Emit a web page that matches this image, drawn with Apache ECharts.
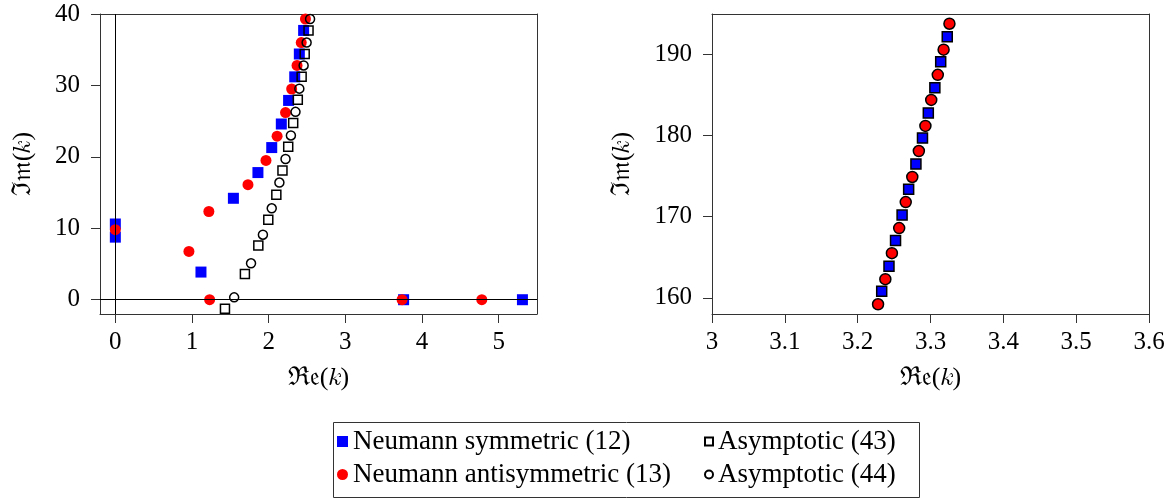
<!DOCTYPE html>
<html lang="en">
<head>
  <meta charset="UTF-8">
  <title>Resonances</title>
  <script src="https://cdn.jsdelivr.net/npm/echarts@6/dist/echarts.min.js"></script>
  <style>
    html, body { margin: 0; padding: 0; background: #fff; }
    #chart { width: 1172px; height: 499px; }
  </style>
</head>
<body>
<div id="chart"></div>
<script>
  // left panel, low-lying part
  const symRe  = [0, 0, 1.117, 1.54, 1.86, 2.04, 2.165, 2.26, 2.34, 2.40, 2.456, 3.76, 5.31];
  const symIm  = [10.6, 8.76, 3.87, 14.2, 17.8, 21.3, 24.6, 27.9, 31.2, 34.4, 37.7, 0, 0];
  const antiRe = [0, 0.96, 1.23, 1.22, 1.73, 1.965, 2.11, 2.22, 2.30, 2.37, 2.425, 2.48, 3.74, 4.78];
  const antiIm = [9.8, 6.76, 0, 12.35, 16.1, 19.5, 22.9, 26.2, 29.5, 32.8, 36.0, 39.3, 0, 0];
  const asym43Re = [1.43, 1.69, 1.865, 1.995, 2.10, 2.18, 2.255, 2.32, 2.38, 2.43, 2.47, 2.52];
  const asym43Im = [-1.26, 3.6, 7.6, 11.2, 14.7, 18.1, 21.4, 24.75, 28.0, 31.2, 34.4, 37.7];
  const asym44Re = [1.55, 1.77, 1.925, 2.04, 2.14, 2.22, 2.29, 2.35, 2.40, 2.456, 2.495, 2.54];
  const asym44Im = [0.33, 5.1, 9.1, 12.8, 16.4, 19.7, 23.0, 26.3, 29.55, 32.8, 36.0, 39.3];

  // right panel, high part
  const symRe2  = [3.233, 3.243, 3.252, 3.261, 3.270, 3.280, 3.289, 3.297, 3.306, 3.314, 3.323];
  const symIm2  = [160.8, 163.9, 167.05, 170.2, 173.4, 176.5, 179.7, 182.8, 185.9, 189.1, 192.2];
  const antiRe2 = [3.228, 3.238, 3.247, 3.257, 3.266, 3.275, 3.284, 3.293, 3.301, 3.310, 3.318, 3.326];
  const antiIm2 = [159.2, 162.3, 165.5, 168.6, 171.8, 174.9, 178.1, 181.2, 184.4, 187.5, 190.6, 193.8];

  const leftXTicks  = [0, 1, 2, 3, 4, 5];
  const leftYTicks  = [0, 10, 20, 30, 40];
  const rightXTicks = [3, 3.1, 3.2, 3.3, 3.4, 3.5, 3.6];
  const rightYTicks = [160, 170, 180, 190];

  const names = ['Neumann symmetric (12)', 'Neumann antisymmetric (13)', 'Asymptotic (43)', 'Asymptotic (44)'];

  const FONT = 'Liberation Serif';
  const zip = (a, b) => a.map((v, i) => [v, b[i]]);
  const fmt = v => String(Math.round(v * 10) / 10);

  function xAxis(idx, min, max, ticks) {
    return {
      type: 'value', gridIndex: idx, min: min, max: max,
      name: 'ℜ𝔢(𝑘)', nameLocation: 'middle', nameGap: 51,
      nameTextStyle: { fontFamily: FONT, fontSize: 26, color: '#000' },
      axisLine: { show: true, onZero: false, lineStyle: { color: '#333', width: 1 } },
      axisTick: { show: true, length: 9, customValues: ticks, lineStyle: { color: '#333' } },
      axisLabel: { customValues: ticks, formatter: fmt, margin: 16, fontFamily: FONT, fontSize: 25, color: '#000' },
      splitLine: { show: false }
    };
  }
  function yAxis(idx, min, max, ticks, gap) {
    return {
      type: 'value', gridIndex: idx, min: min, max: max,
      name: 'ℑ𝔪(𝑘)', nameLocation: 'middle', nameGap: gap,
      nameTextStyle: { fontFamily: FONT, fontSize: 26, color: '#000' },
      axisLine: { show: true, onZero: false, lineStyle: { color: '#333', width: 1 } },
      axisTick: { show: true, length: 9, customValues: ticks, lineStyle: { color: '#333' } },
      axisLabel: { customValues: ticks, formatter: fmt, margin: 20, fontFamily: FONT, fontSize: 25, color: '#000' },
      splitLine: { show: false }
    };
  }
  // plain axes on the top and right to close the frame
  function frameX(idx, min, max) {
    return {
      type: 'value', gridIndex: idx, min: min, max: max, position: 'top',
      axisLine: { show: true, onZero: false, lineStyle: { color: '#333', width: 1 } },
      axisTick: { show: false }, axisLabel: { show: false }, splitLine: { show: false }
    };
  }
  function frameY(idx, min, max) {
    return {
      type: 'value', gridIndex: idx, min: min, max: max, position: 'right',
      axisLine: { show: true, onZero: false, lineStyle: { color: '#333', width: 1 } },
      axisTick: { show: false }, axisLabel: { show: false }, splitLine: { show: false }
    };
  }

  const openStyle = { color: 'rgba(255,255,255,0)', borderColor: '#000', borderWidth: 1.5, opacity: 1 };

  const chart = echarts.init(document.getElementById('chart'));
  chart.setOption({
    animation: false,
    grid: [
      { left: 100, right: 635, top: 14, bottom: 185 },
      { left: 712, right: 23, top: 14, bottom: 185 }
    ],
    xAxis: [xAxis(0, -0.2, 5.5, leftXTicks), xAxis(1, 3, 3.6, rightXTicks), frameX(0, -0.2, 5.5), frameX(1, 3, 3.6)],
    yAxis: [yAxis(0, -2, 40, leftYTicks, 64), yAxis(1, 158, 195, rightYTicks, 77), frameY(0, -2, 40), frameY(1, 158, 195)],
    legend: [
      {
        left: 337, top: 428, orient: 'vertical', padding: 0, itemGap: 6,
        itemWidth: 11, itemHeight: 11,
        textStyle: { fontFamily: FONT, fontSize: 27, color: '#000' },
        data: [names[0], names[1]]
      },
      {
        left: 704, top: 428, orient: 'vertical', padding: 0, itemGap: 6,
        itemWidth: 8, itemHeight: 8,
        textStyle: { fontFamily: FONT, fontSize: 27, color: '#000' },
        data: [names[2], names[3]]
      }
    ],
    graphic: [{
      type: 'rect', left: 331, top: 420, silent: true,
      shape: { width: 586, height: 75 },
      style: { fill: 'none', stroke: '#333', lineWidth: 1 }
    }],
    series: [
      {
        type: 'scatter', xAxisIndex: 0, yAxisIndex: 0, data: [], z: 1,
        markLine: {
          silent: true, symbol: ['none', 'none'], label: { show: false },
          lineStyle: { color: '#000', width: 1, type: 'solid' },
          data: [{ xAxis: 0 }, { yAxis: 0 }]
        }
      },
      {
        name: names[0], type: 'scatter', xAxisIndex: 0, yAxisIndex: 0, z: 2,
        symbol: 'rect', symbolSize: 11, itemStyle: { color: '#0000ff', opacity: 1 },
        data: zip(symRe, symIm)
      },
      {
        name: names[1], type: 'scatter', xAxisIndex: 0, yAxisIndex: 0, z: 3,
        symbol: 'circle', symbolSize: 11, itemStyle: { color: '#ff0000', opacity: 1 },
        data: zip(antiRe, antiIm)
      },
      {
        name: names[2], type: 'scatter', xAxisIndex: 0, yAxisIndex: 0, z: 4,
        symbol: 'rect', symbolSize: 9, itemStyle: openStyle,
        data: zip(asym43Re, asym43Im)
      },
      {
        name: names[3], type: 'scatter', xAxisIndex: 0, yAxisIndex: 0, z: 5,
        symbol: 'circle', symbolSize: 9, itemStyle: openStyle,
        data: zip(asym44Re, asym44Im)
      },
      {
        name: names[0], type: 'scatter', xAxisIndex: 1, yAxisIndex: 1, z: 2,
        symbol: 'rect', symbolSize: 10,
        itemStyle: { color: '#0000ff', borderColor: '#000', borderWidth: 1.5, opacity: 1 },
        data: zip(symRe2, symIm2)
      },
      {
        name: names[1], type: 'scatter', xAxisIndex: 1, yAxisIndex: 1, z: 3,
        symbol: 'circle', symbolSize: 11,
        itemStyle: { color: '#ff0000', borderColor: '#000', borderWidth: 1.5, opacity: 1 },
        data: zip(antiRe2, antiIm2)
      }
    ]
  });
</script>
</body>
</html>
